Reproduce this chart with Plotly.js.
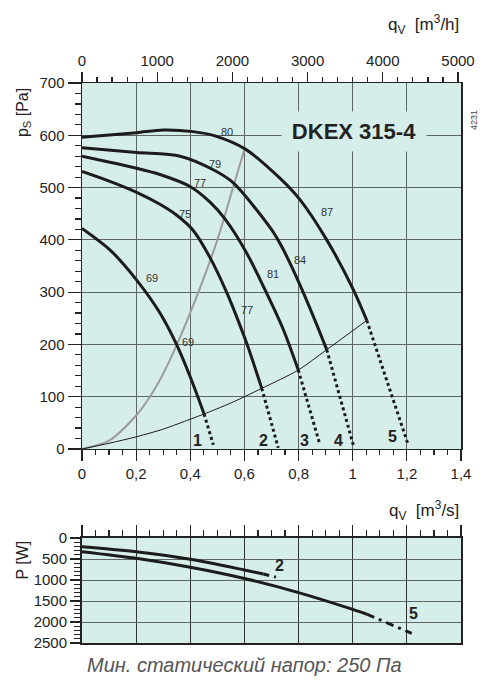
<!DOCTYPE html>
<html>
<head>
<meta charset="utf-8">
<script src="https://cdn.plot.ly/plotly-3.0.1.min.js"></script>
<style>
html,body{margin:0;padding:0;background:#fff;}
#chart{width:496px;height:682px;}
</style>
</head>
<body>
<div id="chart"></div>
<script>
// ---- Data ----
// Pressure curves, q in m3/s, p in Pa
const curve1Q = [0, 0.103, 0.202, 0.288, 0.35, 0.405, 0.451];
const curve1P = [422, 381, 323, 260, 199, 131, 67];
const curve1ExtQ = [0.451, 0.485];
const curve1ExtP = [67, 8];

const curve2Q = [0, 0.103, 0.202, 0.288, 0.35, 0.411, 0.473, 0.534, 0.584, 0.614, 0.664];
const curve2P = [531, 512, 491, 468, 447, 418, 366, 300, 236, 194, 116];
const curve2ExtQ = [0.664, 0.725];
const curve2ExtP = [116, 2];

const curve3Q = [0, 0.202, 0.288, 0.399, 0.473, 0.528, 0.608, 0.682, 0.744, 0.799];
const curve3P = [560, 537, 525, 502, 472, 440, 375, 298, 228, 151];
const curve3ExtQ = [0.799, 0.879];
const curve3ExtP = [151, 8];

const curve4Q = [0, 0.202, 0.362, 0.485, 0.559, 0.701, 0.744, 0.805, 0.867, 0.904];
const curve4P = [576, 567, 560, 534, 509, 419, 381, 314, 238, 190];
const curve4ExtQ = [0.904, 1.002];
const curve4ExtP = [190, 8];

const curve5Q = [0, 0.202, 0.3, 0.41, 0.491, 0.602, 0.731, 0.805, 0.904, 1.003, 1.052];
const curve5P = [596, 605, 610, 607, 599, 574, 518, 477, 400, 304, 246];
const curve5ExtQ = [1.052, 1.205];
const curve5ExtP = [246, 8];

// Minimum static pressure (system) curve
const systemQ = [0, 0.1, 0.202, 0.3, 0.4, 0.451, 0.55, 0.664, 0.799, 0.904, 1.052];
const systemP = [0, 11, 23.5, 38, 57, 67, 88, 116, 151, 190, 246];

// Grey parabola
const greyQ = [0, 0.1, 0.2, 0.251, 0.3, 0.35, 0.43, 0.5, 0.559, 0.602];
const greyP = [0, 16, 64, 100, 144, 199, 300, 400, 502, 576];

// Power curves, q in m3/s, P in W
const power2Q = [0, 0.2, 0.4, 0.6, 0.67];
const power2P = [207, 326, 507, 762, 857];
const power2ExtQ = [0.67, 0.72];
const power2ExtP = [857, 936];

const power5Q = [0, 0.2, 0.4, 0.6, 0.8, 1.0, 1.052];
const power5P = [326, 484, 698, 965, 1300, 1700, 1815];
const power5ExtQ = [1.052, 1.218];
const power5ExtP = [1815, 2270];

// Efficiency labels on the curves
const effText = ['80', '79', '77', '75', '69', '69', '77', '81', '84', '87'];
const effQ = [0.534, 0.491, 0.436, 0.38, 0.26, 0.393, 0.611, 0.707, 0.805, 0.904];
const effP = [607, 545, 509, 450, 327, 205, 266, 335, 362, 454];

// Curve number labels
const numText = ['1', '2', '3', '4', '5'];
const numQ = [0.427, 0.67, 0.821, 0.947, 1.148];
const numP = [17, 17, 17, 17, 24];

const powerNumText = ['2', '5'];
const powerNumQ = [0.731, 1.223];
const powerNumP = [643, 1786];

// Tick labels
const qsTickVals = [0, 0.2, 0.4, 0.6, 0.8, 1.0, 1.2, 1.4];
const qsTickText = ['0', '0,2', '0,4', '0,6', '0,8', '1', '1,2', '1,4'];
const qhTickVals = [0, 1000, 2000, 3000, 4000, 5000];
const qhTickText = ['0', '1000', '2000', '3000', '4000', '5000'];
const pTickVals = [0, 100, 200, 300, 400, 500, 600, 700];
const powTickVals = [0, 500, 1000, 1500, 2000, 2500];

// ---- Styles ----
const DARK = '#1c1c1c';
const GRID = '#5e6665';
const BG = '#d6eeea';
const FONT = 'Liberation Sans, Arial, Helvetica, sans-serif';

function solid(x, y, w, color, xa, ya) {
  return {x: x, y: y, type: 'scatter', mode: 'lines', xaxis: xa || 'x', yaxis: ya || 'y',
    line: {color: color || DARK, width: w || 3, shape: 'spline', smoothing: 0.8}, hoverinfo: 'skip'};
}
function dotted(x, y, dash, xa, ya) {
  return {x: x, y: y, type: 'scatter', mode: 'lines', xaxis: xa || 'x', yaxis: ya || 'y',
    line: {color: DARK, width: 3, dash: dash || 'dot'}, hoverinfo: 'skip'};
}

const traces = [
  solid(greyQ, greyP, 2, '#9c9c9c'),
  solid(systemQ, systemP, 1, DARK),
  solid(curve1Q, curve1P), dotted(curve1ExtQ, curve1ExtP),
  solid(curve2Q, curve2P), dotted(curve2ExtQ, curve2ExtP),
  solid(curve3Q, curve3P), dotted(curve3ExtQ, curve3ExtP),
  solid(curve4Q, curve4P), dotted(curve4ExtQ, curve4ExtP),
  solid(curve5Q, curve5P), dotted(curve5ExtQ, curve5ExtP),
  solid(power2Q, power2P, 3, DARK, 'x3', 'y3'), dotted(power2ExtQ, power2ExtP, '6px,5px,2px,5px', 'x3', 'y3'),
  solid(power5Q, power5P, 3, DARK, 'x3', 'y3'), dotted(power5ExtQ, power5ExtP, '8px,5px,3px,5px', 'x3', 'y3'),
  // invisible trace to activate the top m3/h axis
  {x: [0, 5040], y: [0, 0], type: 'scatter', mode: 'lines', xaxis: 'x2', yaxis: 'y',
   line: {width: 0, color: 'rgba(0,0,0,0)'}, hoverinfo: 'skip'}
];

const annotations = [];
effText.forEach((t, i) => annotations.push({x: effQ[i], y: effP[i], xref: 'x', yref: 'y', text: t,
  showarrow: false, font: {family: FONT, size: 11, color: '#333'}}));
numText.forEach((t, i) => annotations.push({x: numQ[i], y: numP[i], xref: 'x', yref: 'y', text: '<b>' + t + '</b>',
  showarrow: false, font: {family: FONT, size: 16, color: '#222'}}));
powerNumText.forEach((t, i) => annotations.push({x: powerNumQ[i], y: powerNumP[i], xref: 'x3', yref: 'y3', text: '<b>' + t + '</b>',
  showarrow: false, font: {family: FONT, size: 16, color: '#222'}}));

annotations.push(
  {x: 1.005, y: 607, xref: 'x', yref: 'y', text: '<b>DKEX 315-4</b>', showarrow: false,
   font: {family: FONT, size: 22, color: '#222'}, bgcolor: BG, width: 142, height: 37},
  {x: 1.0, xanchor: 'right', y: 1.104, yanchor: 'middle', xref: 'paper', yref: 'paper', showarrow: false,
   text: 'q<sub>V</sub>  [m<sup>3</sup>/h]', font: {family: FONT, size: 17, color: '#222'}},
  {x: 1.0, xanchor: 'right', y: 0.2375, yanchor: 'middle', xref: 'paper', yref: 'paper', showarrow: false,
   text: 'q<sub>V</sub>  [m<sup>3</sup>/s]', font: {family: FONT, size: 17, color: '#222'}},
  {x: -0.185, y: 0.947, yanchor: 'middle', xref: 'paper', yref: 'paper', showarrow: false, textangle: -90,
   text: 'p<sub>S</sub> [Pa]', font: {family: FONT, size: 16, color: '#222'}},
  {x: -0.185, y: 0.148, yanchor: 'middle', xref: 'paper', yref: 'paper', showarrow: false, textangle: -90,
   text: 'P [W]', font: {family: FONT, size: 16, color: '#222'}},
  {x: 1.053, y: 0.934, yanchor: 'middle', xref: 'paper', yref: 'paper', showarrow: false, textangle: -90,
   text: '4231', font: {family: FONT, size: 9, color: '#444'}},
  {x: 0.43, y: -0.039, yanchor: 'middle', xref: 'paper', yref: 'paper', showarrow: false,
   text: '<i>Мин. статический напор: 250 Па</i>', font: {family: FONT, size: 20, color: '#555'}}
);

const tickFont = {family: FONT, size: 15, color: '#222'};
const axisCommon = {
  showline: true, linecolor: '#222', linewidth: 1.5, zeroline: false,
  ticks: 'outside', tickcolor: '#222', tickwidth: 1.2, tickfont: tickFont
};

const layout = {
  width: 496, height: 682,
  margin: {l: 82, r: 35, t: 83, b: 39, pad: 0},
  paper_bgcolor: '#ffffff', plot_bgcolor: BG,
  font: {family: FONT, size: 15, color: '#222'},
  showlegend: false,
  xaxis: Object.assign({}, axisCommon, {
    domain: [0, 1], anchor: 'y', range: [0, 1.4],
    tickmode: 'array', tickvals: qsTickVals, ticktext: qsTickText, ticklen: 11,
    minor: {tickmode: 'linear', tick0: 0, dtick: 0.05, ticks: 'outside', ticklen: 5, tickcolor: '#222', showgrid: false},
    showgrid: true, gridcolor: GRID, gridwidth: 1, mirror: true
  }),
  xaxis2: Object.assign({}, axisCommon, {
    overlaying: 'x', anchor: 'y', side: 'top', range: [0, 5040],
    tickmode: 'array', tickvals: qhTickVals, ticktext: qhTickText, ticklen: 10,
    minor: {tickmode: 'linear', tick0: 0, dtick: 200, ticks: 'outside', ticklen: 5, tickcolor: '#222', showgrid: false},
    showgrid: false
  }),
  yaxis: Object.assign({}, axisCommon, {
    domain: [0.34643, 1], anchor: 'x', range: [0, 700],
    tickmode: 'array', tickvals: pTickVals, ticklen: 13,
    minor: {tickmode: 'linear', tick0: 0, dtick: 20, ticks: 'outside', ticklen: 6, tickcolor: '#222', showgrid: false},
    showgrid: true, gridcolor: GRID, gridwidth: 1, mirror: true
  }),
  xaxis3: Object.assign({}, axisCommon, {
    domain: [0, 1], anchor: 'y3', range: [0, 1.4], side: 'top',
    tickmode: 'array', tickvals: qsTickVals, showticklabels: false, ticklen: 11,
    minor: {tickmode: 'linear', tick0: 0, dtick: 0.05, ticks: 'outside', ticklen: 6, tickcolor: '#222', showgrid: false},
    showgrid: true, gridcolor: '#333', gridwidth: 1, mirror: true, linewidth: 2
  }),
  yaxis3: Object.assign({}, axisCommon, {
    domain: [0, 0.1875], anchor: 'x3', range: [2500, 0],
    tickmode: 'array', tickvals: powTickVals, ticklen: 10,
    minor: {tickmode: 'linear', tick0: 0, dtick: 100, ticks: 'outside', ticklen: 6, tickcolor: '#222', showgrid: false},
    showgrid: true, gridcolor: GRID, gridwidth: 1, mirror: true, linewidth: 2
  }),
  annotations: annotations
};

Plotly.newPlot('chart', traces, layout, {displayModeBar: false, staticPlot: true});
</script>
</body>
</html>
